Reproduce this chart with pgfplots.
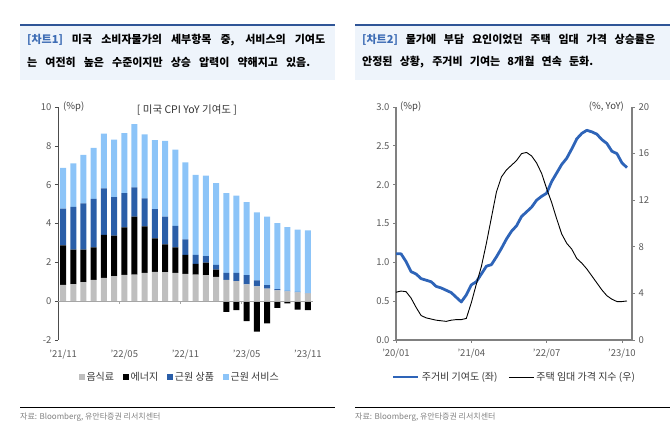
\documentclass[border=0pt]{standalone}
\usepackage{pgfplots}
\pgfplotsset{compat=1.18}
\usepackage{pgfplotstable}
\usepackage{fontspec}
\setmainfont{Noto Sans CJK KR}
\definecolor{cgrey}{HTML}{BFBFBF}
\definecolor{cdblue}{HTML}{2A5EA8}
\definecolor{clblue}{HTML}{8CC4F8}
\definecolor{cline}{HTML}{2E64B8}
\definecolor{tickc}{HTML}{595959}
\definecolor{boxbg}{HTML}{EEF4FB}
\definecolor{boxline}{HTML}{2F5597}
\definecolor{tagc}{HTML}{3E6DB5}
\definecolor{srcc}{HTML}{808080}
\pgfplotsset{sqlegend/.style={legend image code/.code={\fill[##1] (0pt,-2.8pt) rectangle (5.6pt,2.8pt);}}}

\pgfplotstableread{
idx food energy goods services
0 0.84 2.03 1.89 2.10
1 0.88 1.78 2.20 2.24
2 0.98 1.68 2.37 2.51
3 1.10 1.67 2.50 2.63
4 1.20 2.22 2.39 2.82
5 1.29 2.09 1.98 2.96
6 1.36 2.44 1.77 3.09
7 1.37 2.99 1.50 3.26
8 1.46 2.39 1.44 3.30
9 1.51 1.72 1.51 3.56
10 1.49 1.43 1.44 3.90
11 1.46 1.31 1.11 3.92
12 1.41 0.98 0.79 3.97
13 1.37 0.55 0.47 4.12
14 1.34 0.65 0.33 4.14
15 1.25 0.37 0.25 4.21
16 1.10 -0.55 0.36 4.11
17 1.03 -0.46 0.43 3.97
18 0.86 -1.03 0.48 3.76
19 0.76 -1.57 0.31 3.50
20 0.64 -1.15 0.18 3.53
21 0.55 -0.34 0.07 3.40
22 0.50 -0.12 0.03 3.28
23 0.45 -0.43 0.03 3.20
24 0.40 -0.46 0.02 3.22
}\cpitable

\pgfplotstableread{
idx contrib rent
0 1.11 4.1
1 1.11 4.2
2 1.01 4.15
3 0.88 3.6
4 0.85 2.8
5 0.79 2.1
6 0.77 1.9
7 0.75 1.8
8 0.69 1.7
9 0.67 1.65
10 0.64 1.6
11 0.61 1.7
12 0.55 1.75
13 0.49 1.75
14 0.58 1.85
15 0.71 3.2
16 0.75 4.8
17 0.85 6.3
18 0.95 8.3
19 0.97 10.5
20 1.07 12.7
21 1.18 14.0
22 1.30 14.6
23 1.40 15.0
24 1.47 15.4
25 1.59 16.0
26 1.65 16.1
27 1.71 15.8
28 1.80 15.2
29 1.85 14.3
30 1.89 13.0
31 2.04 11.8
32 2.15 10.4
33 2.26 9.1
34 2.34 8.3
35 2.46 7.8
36 2.59 7.0
37 2.66 6.6
38 2.70 6.1
39 2.68 5.5
40 2.65 4.9
41 2.58 4.3
42 2.53 3.8
43 2.43 3.5
44 2.40 3.3
45 2.28 3.3
46 2.22 3.35
}\housetable

\begin{document}
\begin{tikzpicture}
\useasboundingbox (0pt,0pt) rectangle (670pt,439pt);
% title boxes
\fill[boxbg] (20pt,359pt) rectangle (335pt,414pt);
\draw[boxline, line width=1.2pt] (20pt,414pt) -- (335pt,414pt);
\fill[boxbg] (355pt,359pt) rectangle (670pt,414pt);
\draw[boxline, line width=1.2pt] (355pt,414pt) -- (670pt,414pt);
\node[anchor=west, inner sep=0pt, font=\fontsize{11}{13}\selectfont\bfseries] at (27pt,399pt)
  {\makebox[298pt][s]{\textcolor{tagc}{[차트1]} 미국 소비자물가의 세부항목 중, 서비스의 기여도}};
\node[anchor=west, inner sep=0pt, font=\fontsize{11}{13}\selectfont\bfseries] at (27pt,377pt)
  {\makebox[283pt][s]{는 여전히 높은 수준이지만 상승 압력이 약해지고 있음.}};
\node[anchor=west, inner sep=0pt, font=\fontsize{11}{13}\selectfont\bfseries] at (362pt,399pt)
  {\makebox[293pt][s]{\textcolor{tagc}{[차트2]} 물가에 부담 요인이었던 주택 임대 가격 상승률은}};
\node[anchor=west, inner sep=0pt, font=\fontsize{11}{13}\selectfont\bfseries] at (362pt,377pt)
  {\makebox[231pt][s]{안정된 상황, 주거비 기여는 8개월 연속 둔화.}};
% source lines
\draw[black, line width=0.8pt] (20pt,32pt) -- (335pt,32pt);
\draw[black, line width=0.8pt] (355pt,32pt) -- (670pt,32pt);
\node[anchor=west, inner sep=0pt, text=srcc, font=\fontsize{8}{9}\selectfont] at (20pt,22pt) {자료: Bloomberg, 유안타증권 리서치센터};
\node[anchor=west, inner sep=0pt, text=srcc, font=\fontsize{8}{9}\selectfont] at (355pt,22pt) {자료: Bloomberg, 유안타증권 리서치센터};

% left chart
\begin{axis}[
  at={(58pt,99pt)}, anchor=south west, scale only axis,
  width=255pt, height=233pt,
  ybar stacked, stack negative=separate, bar width=6pt,
  xmin=-0.5, xmax=24.5, ymin=-2, ymax=10,
  axis x line*=bottom, axis y line*=left,
  axis line style={-},
  x axis line style={draw=none},
  y axis line style={draw=black!70, line width=0.8pt},
  xtick={0,6,12,18,24},
  xticklabels={'21/11,'22/05,'22/11,'23/05,'23/11},
  xtick style={draw=none},
  ytick={-2,0,2,4,6,8,10},
  ytick style={draw=black!70, line width=0.6pt},
  tick align=outside, major tick length=3pt,
  tick label style={font=\fontsize{9.5}{10}\selectfont, text=tickc},
  /pgf/number format/assume math mode=true,
  xticklabel style={yshift=-3pt},
  legend columns=4,
  legend style={at={(0.478,-0.159)}, anchor=center, draw=none, fill=none,
    font=\fontsize{10}{11}\selectfont, text=black!80,
    /tikz/every even column/.append style={column sep=7pt}},
  clip=false,
]
\draw[gray!70, line width=0.7pt] (axis cs:-0.5,0) -- (axis cs:24.5,0);
\draw[gray!70, line width=0.7pt] (axis cs:5.5,0) -- ++(0pt,-3pt);
\draw[gray!70, line width=0.7pt] (axis cs:11.5,0) -- ++(0pt,-3pt);
\draw[gray!70, line width=0.7pt] (axis cs:17.5,0) -- ++(0pt,-3pt);
\addplot[fill=cgrey, draw=none, sqlegend] table[x=idx, y=food] {\cpitable};
\addlegendentry{음식료}
\addplot[fill=black, draw=none, sqlegend] table[x=idx, y=energy] {\cpitable};
\addlegendentry{에너지}
\addplot[fill=cdblue, draw=none, sqlegend] table[x=idx, y=goods] {\cpitable};
\addlegendentry{근원 상품}
\addplot[fill=clblue, draw=none, sqlegend] table[x=idx, y=services] {\cpitable};
\addlegendentry{근원 서비스}
\end{axis}
\node[anchor=west, inner sep=0pt, text=black!75, font=\fontsize{9.5}{10}\selectfont] at (63pt,332pt) {(\%p)};
\node[inner sep=0pt, text=black!80, font=\fontsize{10.5}{11}\selectfont] at (187pt,329pt) {[ 미국 CPI YoY 기여도 ]};

% right chart, left axis
\begin{axis}[
  at={(396pt,99pt)}, anchor=south west, scale only axis,
  width=236pt, height=233pt,
  xmin=0, xmax=47, ymin=0, ymax=3,
  axis x line*=bottom, axis y line*=left,
  axis line style={-, draw=gray, line width=1.1pt},
  xtick={0,15,30,45},
  xticklabels={'20/01,'21/04,'22/07,'23/10},
  ytick={0,0.5,1,1.5,2,2.5,3},
  yticklabel style={/pgf/number format/fixed, /pgf/number format/fixed zerofill, /pgf/number format/precision=1},
  tick style={draw=gray, line width=0.7pt},
  tick align=outside, major tick length=3pt,
  tick label style={font=\fontsize{9.5}{10}\selectfont, text=tickc},
  /pgf/number format/assume math mode=true,
  xticklabel style={yshift=-2pt},
  legend columns=2,
  legend style={at={(0.502,-0.159)}, anchor=center, draw=none, fill=none,
    font=\fontsize{10}{11}\selectfont, text=black!80,
    /tikz/every even column/.append style={column sep=9pt}},
  legend image code/.code={\draw[#1] (0pt,0pt) -- (25pt,0pt);},
  clip=false,
]
\addplot[cline, line width=2.8pt, line join=round] table[x=idx, y=contrib] {\housetable};
\addlegendentry{주거비 기여도 (좌)}
\addlegendimage{black, line width=0.9pt}
\addlegendentry{주택 임대 가격 지수 (우)}
\end{axis}

% right chart, right axis
\begin{axis}[
  at={(396pt,99pt)}, anchor=south west, scale only axis,
  width=236pt, height=233pt,
  xmin=0, xmax=47, ymin=0, ymax=20,
  axis x line=none, axis y line*=right,
  axis line style={-, draw=gray, line width=1.1pt},
  ytick={0,4,8,12,16,20},
  tick style={draw=gray, line width=0.7pt},
  tick align=outside, major tick length=3pt,
  tick label style={font=\fontsize{9.5}{10}\selectfont, text=tickc},
  /pgf/number format/assume math mode=true,
  clip=false,
]
\addplot[black, line width=0.9pt, line join=round] table[x=idx, y=rent] {\housetable};
\end{axis}
\node[anchor=west, inner sep=0pt, text=black!75, font=\fontsize{9.5}{10}\selectfont] at (400pt,332pt) {(\%p)};
\node[anchor=east, inner sep=0pt, text=black!75, font=\fontsize{9.5}{10}\selectfont] at (624pt,332pt) {(\%, YoY)};
\end{tikzpicture}
\end{document}
